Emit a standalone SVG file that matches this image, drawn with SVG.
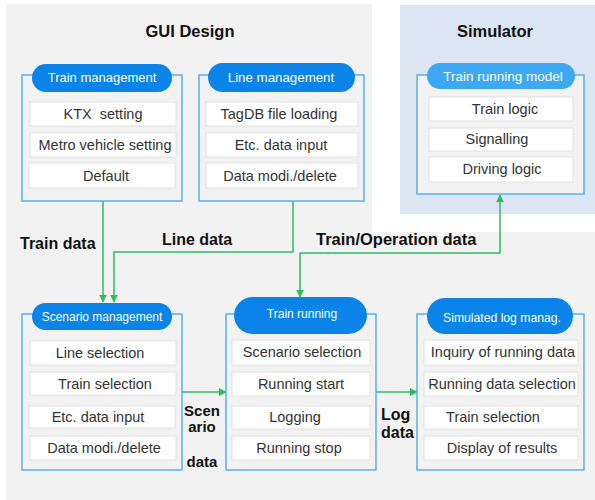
<svg xmlns="http://www.w3.org/2000/svg" width="595" height="500" viewBox="0 0 595 500">
<defs>
<style>
.outer{fill:#f2f2f2;stroke:#5aaef0;stroke-width:1.5}
.pill{fill:#0a84e8}
.pill2{fill:#3ea8f2}
.item{fill:#ffffff;stroke:#e2e2e2;stroke-width:1}
.ht{font-family:"Liberation Sans",Arial,sans-serif;font-size:13px;fill:#ffffff;text-anchor:middle}
.it{font-family:"Liberation Sans",Arial,sans-serif;font-size:14.5px;fill:#333333;text-anchor:middle}
.lb{font-family:"Liberation Sans",Arial,sans-serif;font-weight:bold;font-size:16px;fill:#111111}
.ttl{font-family:"Liberation Sans",Arial,sans-serif;font-weight:bold;font-size:16.5px;fill:#111111;text-anchor:middle}
.con{fill:none;stroke:#2dbe60;stroke-width:1.5}
</style>
<marker id="ah" viewBox="0 0 10 10" refX="9" refY="5" markerWidth="8" markerHeight="8" markerUnits="userSpaceOnUse" orient="auto-start-reverse">
<path d="M0,0 L10,5 L0,10 Z" fill="#2dbe60"/>
</marker>
</defs>

<g id="background">
<path d="M6,4 H372 V232 H595 V500 H6 Z" fill="#f2f2f2"/>
<rect x="400" y="5" width="195" height="209" fill="#dce6f2"/>
<text class="ttl" x="190" y="37">GUI Design</text>
<text class="ttl" x="495" y="37">Simulator</text>
</g>

<g id="connectors">
<path class="con" d="M103,201 V302" marker-end="url(#ah)"/>
<path class="con" d="M293,201 V252 H114 V302" marker-end="url(#ah)"/>
<path class="con" d="M300,297 V253 H500 V195" marker-start="url(#ah)" marker-end="url(#ah)"/>
<path class="con" d="M182,392 H226" marker-end="url(#ah)"/>
<path class="con" d="M376,392 H417" marker-end="url(#ah)"/>
<text class="lb" x="20" y="249">Train data</text>
<text class="lb" x="162" y="245">Line data</text>
<text class="lb" x="316" y="245" style="font-size:16.5px">Train/Operation data</text>
<text class="lb" x="202" y="416" style="font-size:15px;text-anchor:middle">Scen</text>
<text class="lb" x="202" y="432" style="font-size:15px;text-anchor:middle">ario</text>
<text class="lb" x="202" y="467" style="font-size:15px;text-anchor:middle">data</text>
<text class="lb" x="381" y="420">Log</text>
<text class="lb" x="381" y="438">data</text>
</g>

<g id="train-management">
<rect class="outer" x="22" y="75" width="160" height="126"/>
<rect class="pill" x="32" y="64" width="140" height="28" rx="14"/>
<text class="ht" x="102" y="82">Train management</text>
<rect class="item" x="30" y="102" width="146" height="24"/>
<text class="it" x="103" y="119" xml:space="preserve">KTX  setting</text>
<rect class="item" x="30" y="133" width="146" height="24"/>
<text class="it" x="105" y="150">Metro vehicle setting</text>
<rect class="item" x="29" y="163" width="146" height="25"/>
<text class="it" x="106" y="181">Default</text>
</g>

<g id="line-management">
<rect class="outer" x="199" y="75" width="165" height="126"/>
<rect class="pill" x="208" y="63" width="147" height="29" rx="14.5"/>
<text class="ht" x="281" y="82" style="font-size:13.3px">Line management</text>
<rect class="item" x="206" y="102" width="152" height="24"/>
<text class="it" x="279" y="119">TagDB file loading</text>
<rect class="item" x="206" y="133" width="152" height="24"/>
<text class="it" x="281" y="150">Etc. data input</text>
<rect class="item" x="206" y="163" width="152" height="25"/>
<text class="it" x="280" y="181">Data modi./delete</text>
</g>

<g id="train-running-model">
<rect class="outer" x="417" y="75" width="167" height="119"/>
<rect class="pill2" x="427" y="63" width="148" height="26" rx="13"/>
<text class="ht" x="503" y="81" style="font-size:13.5px">Train running model</text>
<rect class="item" x="429" y="97" width="144" height="24"/>
<text class="it" x="505" y="114">Train logic</text>
<rect class="item" x="429" y="128" width="144" height="23"/>
<text class="it" x="497" y="144">Signalling</text>
<rect class="item" x="429" y="157" width="144" height="25"/>
<text class="it" x="502" y="174">Driving logic</text>
</g>

<g id="scenario-management">
<rect class="outer" x="22" y="314" width="160" height="156"/>
<rect class="pill" x="32" y="303" width="140" height="27" rx="13.5"/>
<text class="ht" x="102" y="321" style="font-size:12px">Scenario management</text>
<rect class="item" x="30" y="341" width="146" height="24"/>
<text class="it" x="100" y="358">Line selection</text>
<rect class="item" x="30" y="372" width="146" height="23"/>
<text class="it" x="105" y="389">Train selection</text>
<rect class="item" x="29" y="406" width="146" height="22"/>
<text class="it" x="98" y="422">Etc. data input</text>
<rect class="item" x="30" y="436" width="146" height="24"/>
<text class="it" x="104" y="453">Data modi./delete</text>
</g>

<g id="train-running">
<rect class="outer" x="226" y="314" width="150" height="156"/>
<rect class="pill" x="234" y="297" width="133" height="37" rx="18.5"/>
<text class="ht" x="302" y="318" style="font-size:12px">Train running</text>
<rect class="item" x="232" y="340" width="138" height="25"/>
<text class="it" x="302" y="357">Scenario selection</text>
<rect class="item" x="232" y="372" width="138" height="24"/>
<text class="it" x="301" y="389">Running start</text>
<rect class="item" x="232" y="406" width="138" height="23"/>
<text class="it" x="295" y="422">Logging</text>
<rect class="item" x="232" y="436" width="138" height="24"/>
<text class="it" x="299" y="453">Running stop</text>
</g>

<g id="simulated-log-management">
<rect class="outer" x="417" y="314" width="167" height="156"/>
<rect class="pill" x="427" y="298" width="146" height="36" rx="18"/>
<text class="ht" x="502" y="322" style="font-size:12.2px">Simulated log manag.</text>
<rect class="item" x="424" y="340" width="154" height="25"/>
<text class="it" x="503" y="357">Inquiry of running data</text>
<rect class="item" x="424" y="372" width="154" height="24"/>
<text class="it" x="502" y="389">Running data selection</text>
<rect class="item" x="424" y="406" width="154" height="23"/>
<text class="it" x="493" y="422">Train selection</text>
<rect class="item" x="424" y="436" width="154" height="24"/>
<text class="it" x="502" y="453">Display of results</text>
</g>
</svg>
